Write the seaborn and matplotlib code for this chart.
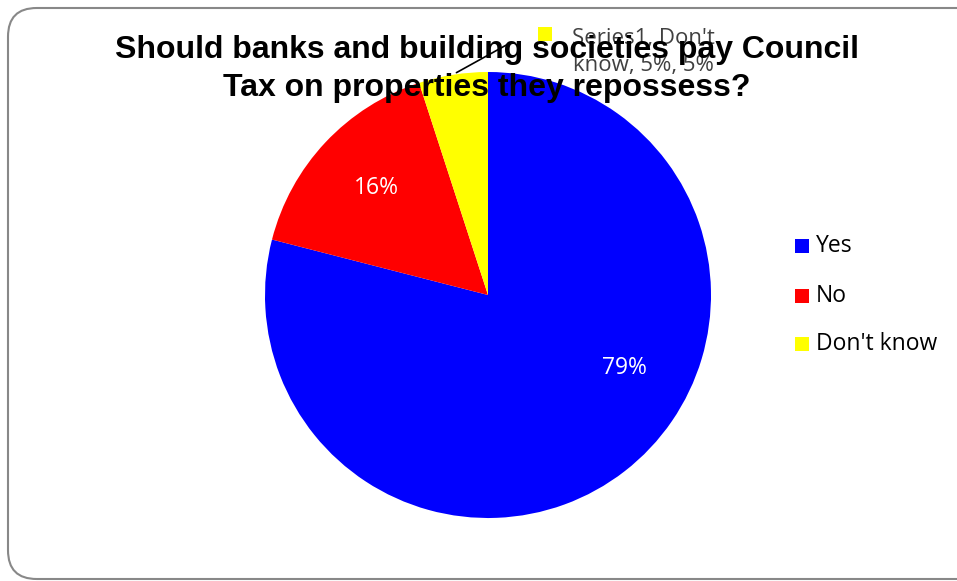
import matplotlib
matplotlib.use("Agg")
import matplotlib.pyplot as plt
import seaborn as sns
from matplotlib.patches import FancyBboxPatch, Rectangle

categories = ["Yes", "No", "Don't know"]
values = [79, 16, 5]
colors = ["#0000FF", "#FF0000", "#FFFF00"]
title = "Should banks and building societies pay Council\nTax on properties they repossess?"

sns.set_theme(style="white")
plt.rcParams['font.family'] = ['Open Sans', 'DejaVu Sans']

W, H = 957, 581
fig = plt.figure(figsize=(W / 100, H / 100), dpi=100)

# border
border = FancyBboxPatch((8 / W, 1 - 579 / H), 1.2, 571 / H,
                        boxstyle="round,pad=0,rounding_size=0.03",
                        transform=fig.transFigure, fill=False,
                        edgecolor="#888888", linewidth=1.5, mutation_aspect=W / H)
fig.patches.append(border)

cx, cy, r = 488, 295, 223
ax = fig.add_axes([(cx - r) / W, 1 - (cy + r) / H, 2 * r / W, 2 * r / H])
wedges, texts = ax.pie(values, colors=colors, startangle=90, counterclock=False,
                       radius=1.0, wedgeprops=dict(linewidth=0))
ax.set_xlim(-1, 1)
ax.set_ylim(-1, 1)
ax.set_aspect("equal")
ax.axis("off")

def pxy(px, py):
    return ((px - cx) / r, (cy - py) / r)

# percentage labels
ax.text(*pxy(624, 368), f"{values[0]}%", color="white", fontsize=16.5,
        ha="center", va="center")
ax.text(*pxy(376, 188), f"{values[1]}%", color="white", fontsize=16.5,
        ha="center", va="center")

# Don't know callout
ax.annotate("", xy=pxy(454, 74), xytext=pxy(510, 43),
            arrowprops=dict(arrowstyle="-", color="black", lw=1.2),
            annotation_clip=False)
fig.patches.append(Rectangle((538 / W, 1 - 41 / H), 14 / W, 14 / H,
                             transform=fig.transFigure, facecolor=colors[2],
                             edgecolor="none"))
fig.text(643 / W, 1 - 52 / H, f"Series1, Don't\nknow, {values[2]}%, {values[2]}%",
         color="#404040", fontsize=16, ha="center", va="center", linespacing=1.35)

# title
fig.text(487 / W, 1 - 69 / H, title, fontsize=23, fontweight="bold",
         family=["Liberation Sans", "DejaVu Sans"], ha="center", va="center",
         linespacing=1.38, color="black")

# legend
ys = [246, 296, 344]
for cat, col, y in zip(categories, colors, ys):
    fig.patches.append(Rectangle((795 / W, 1 - (y + 7) / H), 14 / W, 14 / H,
                                 transform=fig.transFigure, facecolor=col,
                                 edgecolor="none"))
    fig.text(816 / W, 1 - y / H, cat, fontsize=16.5, ha="left", va="center",
             color="black")

fig.savefig("out.png", dpi=100)
